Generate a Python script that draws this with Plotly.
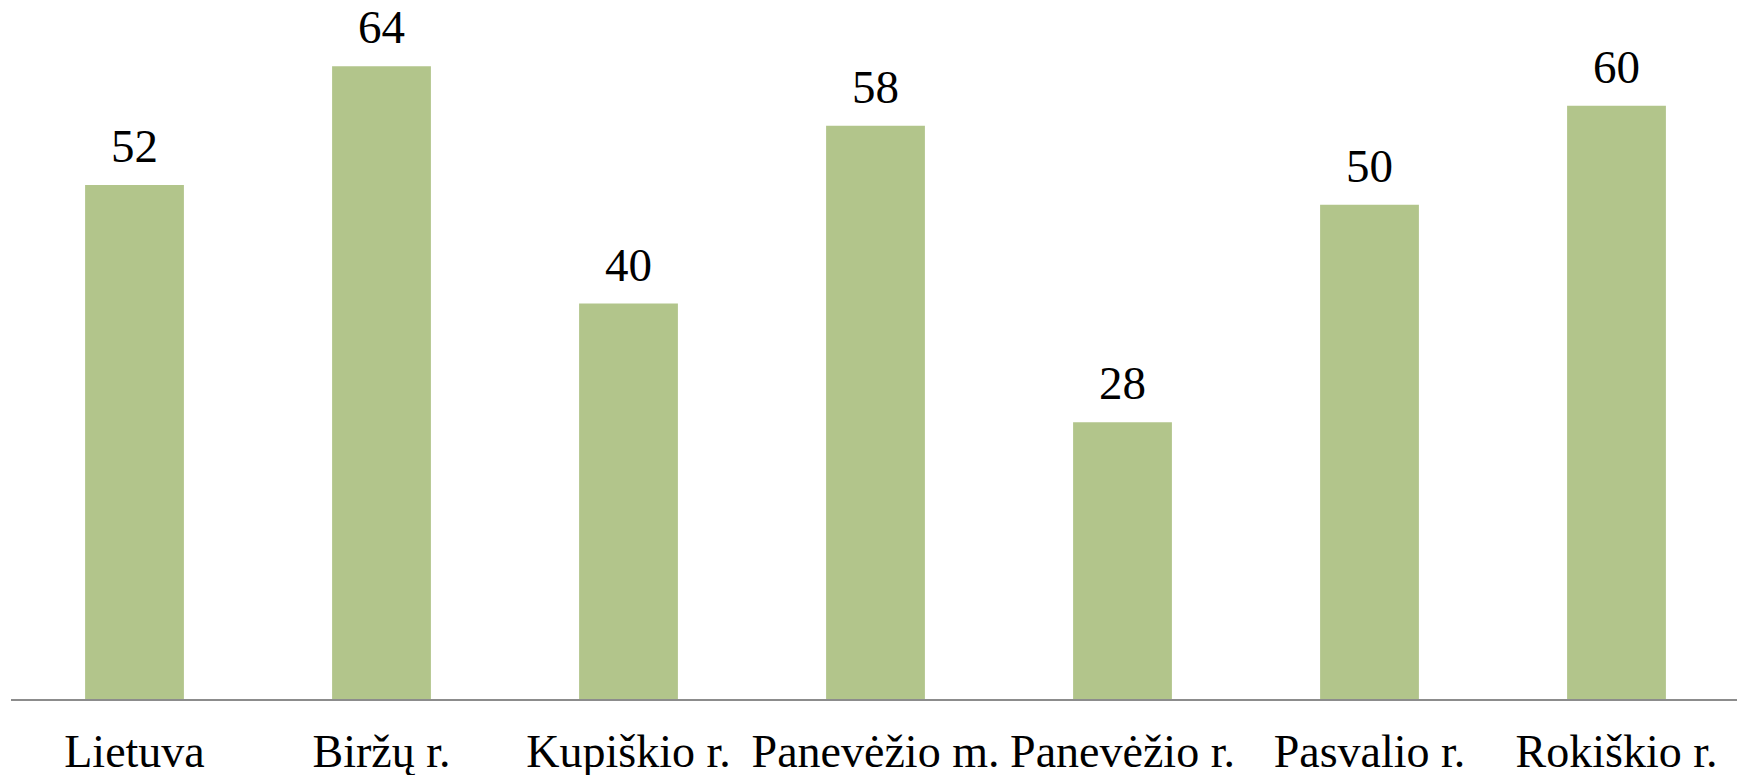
import plotly.graph_objects as go

categories = ["Lietuva", "Biržų r.", "Kupiškio r.", "Panevėžio m.", "Panevėžio r.", "Pasvalio r.", "Rokiškio r."]
values = [52, 64, 40, 58, 28, 50, 60]

FONT = "Liberation Serif"

fig = go.Figure(go.Bar(
    x=categories, y=values,
    marker=dict(color="#B2C58B", line=dict(width=0)),
    cliponaxis=False,
))
for c, v in zip(categories, values):
    fig.add_annotation(x=c, y=v, text=str(v), showarrow=False,
                       yanchor="bottom", yshift=12, borderpad=0,
                       font=dict(family=FONT, size=47, color="#000000"))
fig.update_layout(
    width=1737, height=767,
    margin=dict(l=3, r=5, t=0, b=76, autoexpand=False),
    plot_bgcolor="white", paper_bgcolor="white",
    bargap=0.6, showlegend=False,
    font=dict(family=FONT, color="#000000"),
)
fig.update_yaxes(range=[0, 69.9], visible=False)
fig.update_xaxes(showline=True, linecolor="#8C8C8C", linewidth=2,
                 ticks="", tickangle=0, automargin=False,
                 tickfont=dict(family=FONT, size=46, color="#000000"),
                 ticklabelstandoff=11)
fig.write_html("out.html")
